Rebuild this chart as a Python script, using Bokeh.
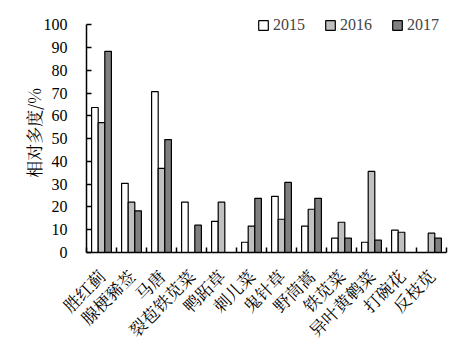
import math
import numpy as np
from bokeh.plotting import figure
from bokeh.models import Range1d, FixedTicker, Label, Legend, LegendItem
from bokeh.embed import file_html
from bokeh.resources import INLINE

categories = ["胜红蓟", "腺梗豨莶", "马唐", "裂苞铁苋菜", "鸭跖草", "刺儿菜",
              "鬼针草", "野茼蒿", "铁苋菜", "异叶黄鹌菜", "打碗花", "反枝苋"]
v2015 = [63.7, 30.4, 70.7, 22.1, 13.7, 4.5, 24.7, 11.6, 6.3, 4.5, 9.8, 0]
v2016 = [57.1, 22.1, 37.0, 0, 22.1, 11.6, 14.6, 19.0, 13.3, 35.6, 8.9, 8.5]
v2017 = [88.4, 18.3, 49.6, 12.0, 0, 23.8, 30.8, 23.8, 6.3, 5.4, 0, 6.3]
years = ["2015", "2016", "2017"]
colors = ["#FFFFFF", "#C0C0C0", "#808080"]
y_ticks = list(range(0, 101, 10))

SERIF = "'Liberation Serif', 'Times New Roman', serif"
CJK = "'Noto Serif CJK SC', 'Noto Sans CJK SC', sans-serif"

n = len(categories)
centers = np.arange(n) + 0.5
bounds = list(range(0, n + 1))

p = figure(width=470, height=353, output_backend="svg", toolbar_location=None,
           x_range=Range1d(0, n), y_range=Range1d(0, 105),
           min_border_left=86, min_border_right=24, min_border_top=13, min_border_bottom=100)
p.background_fill_color = "white"
p.border_fill_color = "white"
p.outline_line_color = None
p.xgrid.visible = False
p.ygrid.visible = False

bw = 0.22
renderers = []
for k, (vals, col) in enumerate(zip([v2015, v2016, v2017], colors)):
    r = p.vbar(x=centers + (k - 1) * bw, top=vals, width=bw, bottom=0,
               fill_color=col, line_color="black", line_width=1.2)
    renderers.append(r)

legend = Legend(items=[LegendItem(label=y, renderers=[r]) for y, r in zip(years, renderers)],
                orientation="horizontal", location=(171, 218))
legend.border_line_color = None
legend.background_fill_alpha = 0
legend.glyph_width = 12
legend.glyph_height = 12
legend.label_height = 12
legend.label_standoff = 4
legend.spacing = 19
legend.padding = 0
legend.margin = 0
legend.label_text_font = SERIF
legend.label_text_font_size = "16px"
legend.label_text_baseline = "middle"
p.add_layout(legend)

# X axis
xa = p.xaxis[0]
xa.ticker = FixedTicker(ticks=list(centers), minor_ticks=bounds)
xa.major_label_overrides = {float(c): name for c, name in zip(centers, categories)}
xa.major_label_orientation = math.pi / 4
xa.major_tick_in = 0
xa.major_tick_out = 0
xa.minor_tick_in = 5
xa.minor_tick_out = 0
xa.minor_tick_line_color = "black"
xa.axis_line_color = "black"
xa.axis_line_width = 1.5
xa.minor_tick_line_width = 1.5
xa.major_label_text_font = CJK
xa.major_label_text_font_size = "17px"
xa.major_label_text_color = "black"
xa.major_label_standoff = 20

# Y axis
ya = p.yaxis[0]
ya.ticker = FixedTicker(ticks=y_ticks, minor_ticks=[])
ya.bounds = (0, 100)
ya.major_tick_in = 5
ya.major_tick_out = 0
ya.minor_tick_in = 0
ya.minor_tick_out = 0
ya.axis_line_width = 1.5
ya.major_tick_line_width = 1.5
ya.major_label_text_font = SERIF
ya.major_label_text_font_size = "16px"
ya.major_label_text_color = "black"
ya.major_label_standoff = 19
ya.axis_label = "相对多度/%"
ya.axis_label_text_font = CJK
ya.axis_label_text_font_style = "normal"
ya.axis_label_text_font_size = "17px"
ya.axis_label_text_color = "black"
ya.axis_label_standoff = -5

p.add_layout(Label(x=n, y=-36, text="优势杂草", text_align="right", text_baseline="middle",
                   text_font=CJK, text_font_size="16px", text_color="black"))

open("out.html", "w").write(file_html(p, INLINE))
